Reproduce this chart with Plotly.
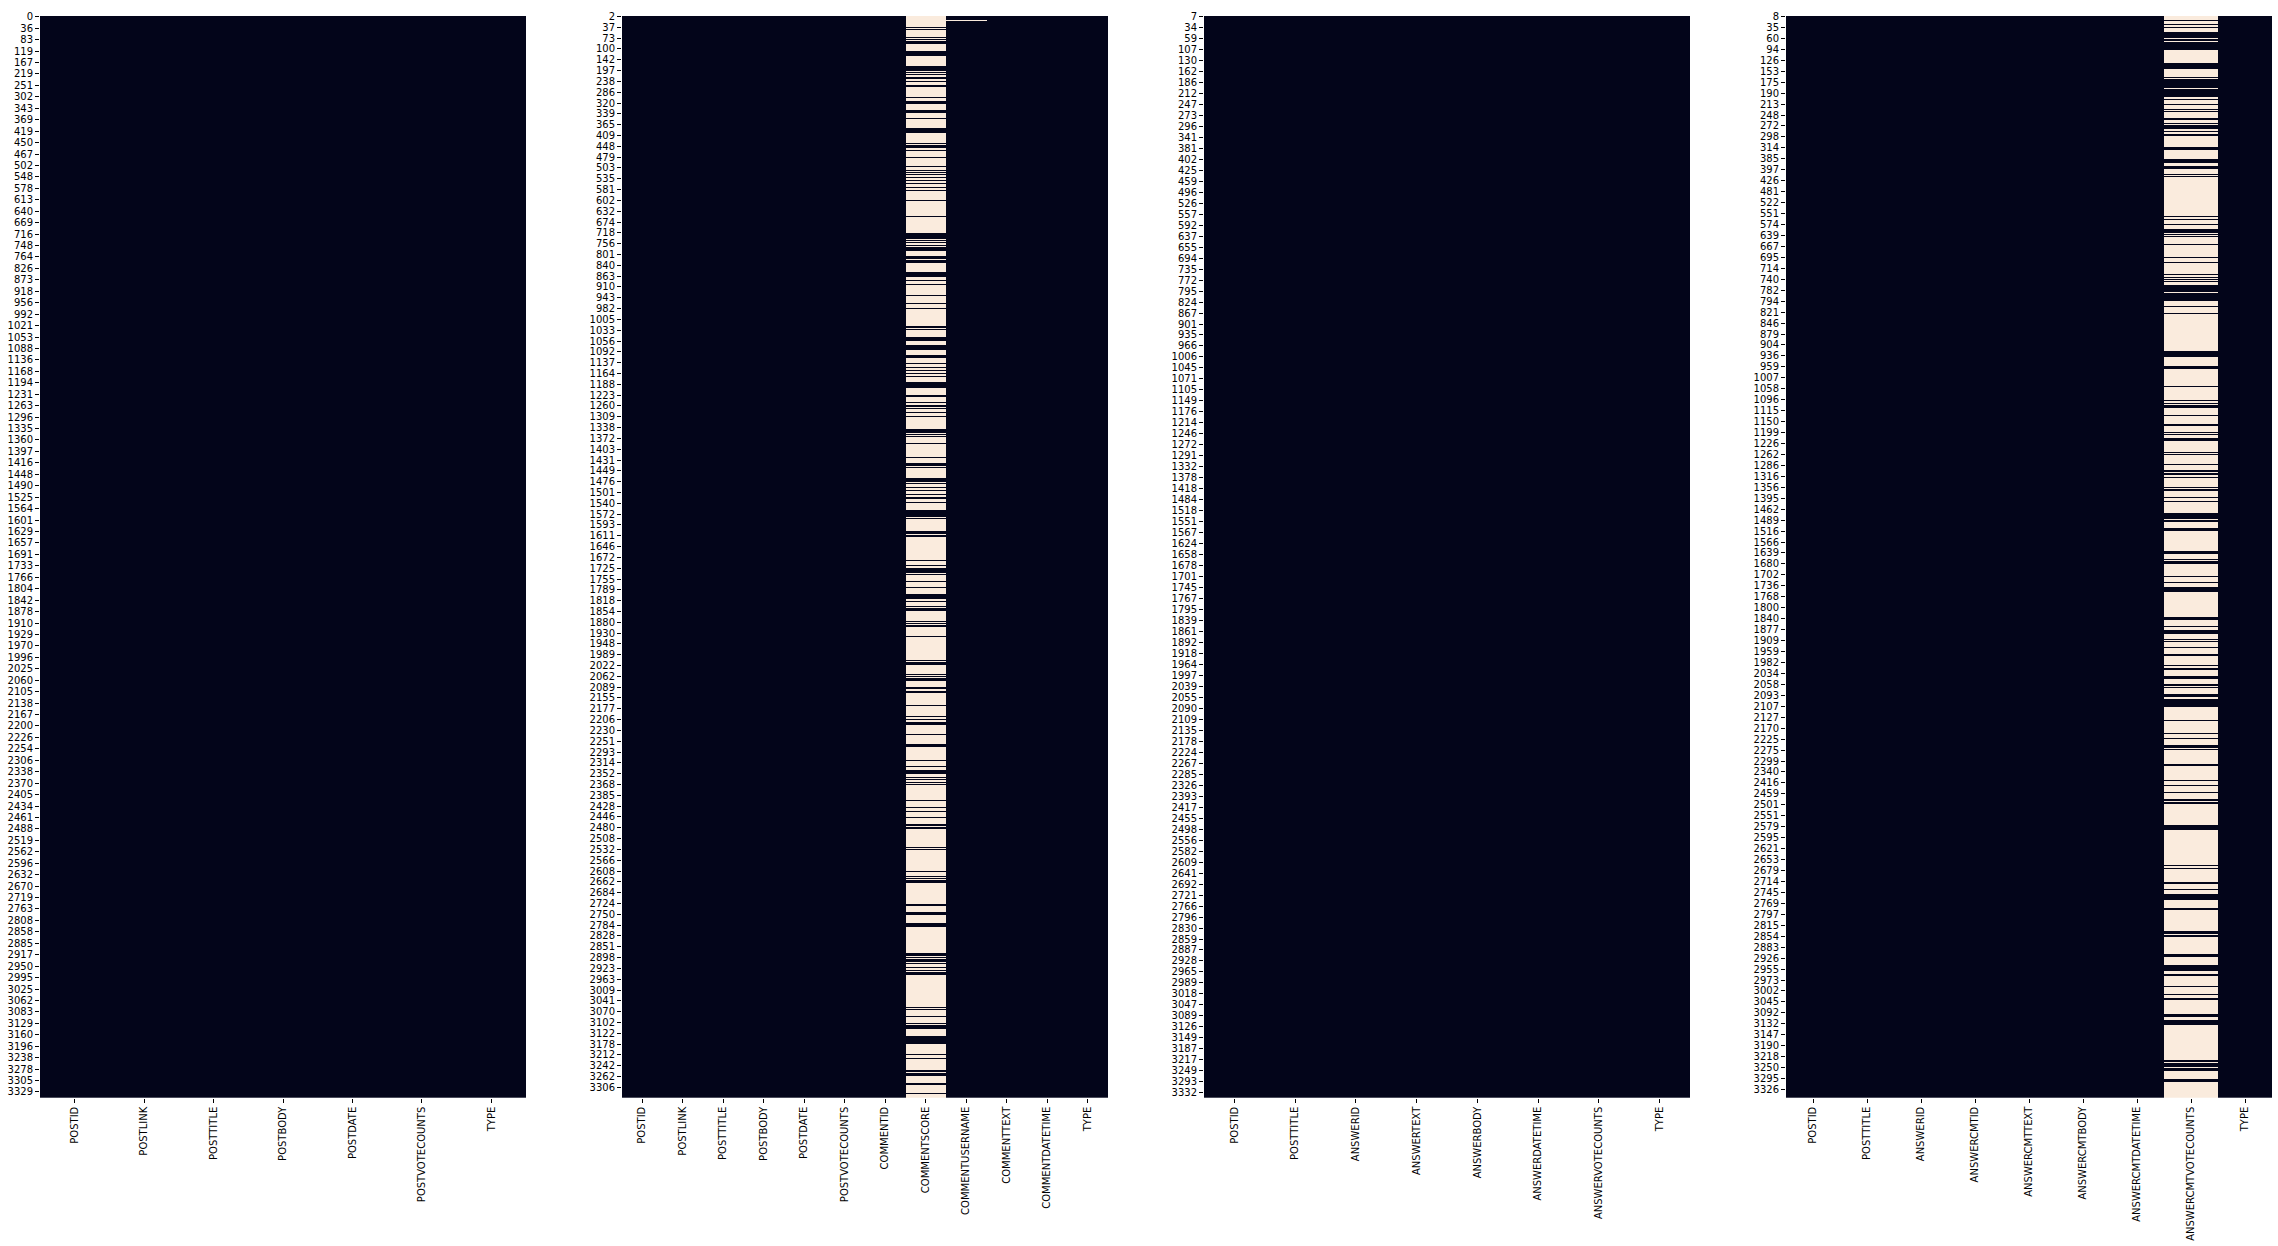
import plotly.graph_objects as go

# ---------------- data ----------------
cols1 = ["POSTID", "POSTLINK", "POSTTITLE", "POSTBODY", "POSTDATE", "POSTVOTECOUNTS", "TYPE"]
labels1 = [0, 36, 83, 119, 167, 219, 251, 302, 343, 369, 419, 450, 467, 502, 548, 578, 613, 640, 669, 716,
           748, 764, 826, 873, 918, 956, 992, 1021, 1053, 1088, 1136, 1168, 1194, 1231, 1263, 1296, 1335, 1360,
           1397, 1416, 1448, 1490, 1525, 1564, 1601, 1629, 1657, 1691, 1733, 1766, 1804, 1842, 1878, 1910, 1929,
           1970, 1996, 2025, 2060, 2105, 2138, 2167, 2200, 2226, 2254, 2306, 2338, 2370, 2405, 2434, 2461, 2488,
           2519, 2562, 2596, 2632, 2670, 2719, 2763, 2808, 2858, 2885, 2917, 2950, 2995, 3025, 3062, 3083, 3129,
           3160, 3196, 3238, 3278, 3305, 3329]
rows1 = 662
step1 = 7

cols2 = ["POSTID", "POSTLINK", "POSTTITLE", "POSTBODY", "POSTDATE", "POSTVOTECOUNTS", "COMMENTID",
         "COMMENTSCORE", "COMMENTUSERNAME", "COMMENTTEXT", "COMMENTDATETIME", "TYPE"]
labels2 = [2, 37, 73, 100, 142, 197, 238, 286, 320, 339, 365, 409, 448, 479, 503, 535, 581, 602, 632, 674,
           718, 756, 801, 840, 863, 910, 943, 982, 1005, 1033, 1056, 1092, 1137, 1164, 1188, 1223, 1260, 1309,
           1338, 1372, 1403, 1431, 1449, 1476, 1501, 1540, 1572, 1593, 1611, 1646, 1672, 1725, 1755, 1789, 1818,
           1854, 1880, 1930, 1948, 1989, 2022, 2062, 2089, 2155, 2177, 2206, 2230, 2251, 2293, 2314, 2352, 2368,
           2385, 2428, 2446, 2480, 2508, 2532, 2566, 2608, 2662, 2684, 2724, 2750, 2784, 2828, 2851, 2898, 2923,
           2963, 3009, 3041, 3070, 3102, 3122, 3178, 3212, 3242, 3262, 3306]
rows2 = 1000
step2 = 10
# rows (inclusive runs) where COMMENTSCORE is present; every other row is missing
score_present2 = [
    [10, 10], [12, 12], [19, 19], [21, 21], [23, 25], [32, 36], [46, 50], [52, 52], [54, 54], [56, 57], [60, 60],
    [64, 65], [75, 75], [79, 80], [87, 89], [94, 94], [104, 107], [117, 117], [119, 121], [124, 124], [130, 130],
    [139, 139], [142, 142], [144, 144], [146, 146], [149, 149], [152, 152], [154, 154], [158, 158], [161, 161],
    [170, 170], [185, 185], [201, 205], [207, 207], [209, 209], [212, 212], [214, 216], [222, 224], [226, 227],
    [237, 240], [244, 244], [248, 248], [258, 258], [265, 265], [270, 270], [287, 287], [289, 289], [297, 299],
    [304, 308], [313, 315], [321, 321], [324, 324], [327, 327], [330, 330], [333, 333], [338, 343], [350, 351],
    [357, 357], [360, 360], [362, 362], [366, 366], [370, 370], [382, 384], [386, 386], [388, 388], [395, 395],
    [408, 408], [413, 415], [417, 417], [427, 430], [432, 432], [435, 435], [438, 438], [442, 442], [445, 445],
    [449, 449], [457, 462], [464, 464], [476, 478], [480, 481], [503, 503], [507, 507], [510, 514], [516, 516],
    [522, 522], [528, 528], [534, 538], [541, 541], [545, 545], [547, 549], [559, 559], [561, 561], [563, 564],
    [573, 573], [595, 595], [597, 599], [608, 608], [610, 610], [612, 614], [620, 621], [624, 625], [637, 637],
    [647, 647], [650, 650], [653, 654], [664, 664], [673, 675], [688, 688], [693, 693], [697, 700], [703, 703],
    [705, 705], [708, 708], [710, 710], [725, 725], [731, 731], [735, 735], [740, 740], [747, 748], [750, 750],
    [768, 768], [770, 770], [790, 790], [795, 795], [797, 797], [799, 800], [821, 822], [828, 830], [838, 841],
    [866, 868], [870, 870], [872, 873], [875, 875], [879, 879], [882, 882], [884, 885], [916, 916], [918, 918],
    [924, 924], [931, 931], [933, 935], [943, 949], [959, 959], [963, 963], [974, 975], [977, 979], [986, 987],
    [995, 995]]
# rows where COMMENTUSERNAME is missing
username_missing2 = [4]

cols3 = ["POSTID", "POSTTITLE", "ANSWERID", "ANSWERTEXT", "ANSWERBODY", "ANSWERDATETIME",
         "ANSWERVOTECOUNTS", "TYPE"]
labels3 = [7, 34, 59, 107, 130, 162, 186, 212, 247, 273, 296, 341, 381, 402, 425, 459, 496, 526, 557, 592,
           637, 655, 694, 735, 772, 795, 824, 867, 901, 935, 966, 1006, 1045, 1071, 1105, 1149, 1176, 1214,
           1246, 1272, 1291, 1332, 1378, 1418, 1484, 1518, 1551, 1567, 1624, 1658, 1678, 1701, 1745, 1767,
           1795, 1839, 1861, 1892, 1918, 1964, 1997, 2039, 2055, 2090, 2109, 2135, 2178, 2224, 2267, 2285,
           2326, 2393, 2417, 2455, 2498, 2556, 2582, 2609, 2641, 2692, 2721, 2766, 2796, 2830, 2859, 2887,
           2928, 2965, 2989, 3018, 3047, 3089, 3126, 3149, 3187, 3217, 3249, 3293, 3332]
rows3 = 985
step3 = 10

cols4 = ["POSTID", "POSTTITLE", "ANSWERID", "ANSWERCMTID", "ANSWERCMTTEXT", "ANSWERCMTBODY",
         "ANSWERCMTDATETIME", "ANSWERCMTVOTECOUNTS", "TYPE"]
labels4 = [8, 35, 60, 94, 126, 153, 175, 190, 213, 248, 272, 298, 314, 385, 397, 426, 481, 522, 551, 574,
           639, 667, 695, 714, 740, 782, 794, 821, 846, 879, 904, 936, 959, 1007, 1058, 1096, 1115, 1150, 1199,
           1226, 1262, 1286, 1316, 1356, 1395, 1462, 1489, 1516, 1566, 1639, 1680, 1702, 1736, 1768, 1800,
           1840, 1877, 1909, 1959, 1982, 2034, 2058, 2093, 2107, 2127, 2170, 2225, 2275, 2299, 2340, 2416,
           2459, 2501, 2551, 2579, 2595, 2621, 2653, 2679, 2714, 2745, 2769, 2797, 2815, 2854, 2883, 2926,
           2955, 2973, 3002, 3045, 3092, 3132, 3147, 3190, 3218, 3250, 3295, 3326]
rows4 = 988
step4 = 10
# rows (inclusive runs) where ANSWERCMTVOTECOUNTS is present; every other row is missing
votes_present4 = [
    [4, 4], [7, 7], [10, 10], [15, 19], [21, 22], [24, 30], [43, 47], [56, 56], [58, 65], [67, 73], [76, 76],
    [80, 80], [85, 85], [87, 87], [93, 94], [98, 98], [100, 102], [105, 105], [108, 109], [120, 121],
    [131, 133], [137, 139], [144, 144], [146, 146], [183, 183], [185, 185], [190, 190], [195, 197], [199, 199],
    [201, 201], [208, 208], [220, 220], [225, 225], [236, 236], [238, 238], [240, 240], [242, 242], [246, 251],
    [253, 259], [265, 265], [271, 271], [306, 310], [320, 321], [338, 338], [351, 351], [353, 353], [355, 357],
    [364, 364], [373, 373], [380, 380], [382, 382], [385, 387], [398, 398], [400, 400], [409, 409], [415, 415],
    [417, 418], [421, 421], [430, 430], [432, 433], [439, 439], [443, 443], [454, 458], [460, 461], [468, 469],
    [489, 490], [496, 496], [498, 499], [511, 511], [517, 517], [521, 525], [549, 551], [557, 557], [561, 563],
    [569, 569], [571, 571], [576, 576], [583, 583], [593, 593], [595, 596], [603, 604], [610, 611], [613, 613],
    [619, 621], [624, 630], [643, 643], [655, 655], [659, 659], [666, 667], [669, 669], [683, 684], [698, 698],
    [702, 702], [709, 709], [715, 716], [718, 719], [739, 742], [775, 775], [778, 778], [791, 792], [797, 797],
    [802, 806], [815, 815], [836, 837], [839, 840], [857, 858], [867, 871], [875, 876], [886, 886], [893, 893],
    [897, 898], [911, 913], [917, 920], [953, 954], [956, 959], [961, 962], [971, 972]]


# ---------------- build isnull matrices ----------------
def empty(nrows, ncols):
    return [[0] * ncols for _ in range(nrows)]


def mostly_missing(z, col, present_runs):
    for r in range(len(z)):
        z[r][col] = 1
    for a, b in present_runs:
        for r in range(a, b + 1):
            if r < len(z):
                z[r][col] = 0


z1 = empty(rows1, len(cols1))
z2 = empty(rows2, len(cols2))
mostly_missing(z2, cols2.index("COMMENTSCORE"), score_present2)
for r in username_missing2:
    z2[r][cols2.index("COMMENTUSERNAME")] = 1
z3 = empty(rows3, len(cols3))
z4 = empty(rows4, len(cols4))
mostly_missing(z4, cols4.index("ANSWERCMTVOTECOUNTS"), votes_present4)

panels = [
    (z1, cols1, labels1, rows1, step1),
    (z2, cols2, labels2, rows2, step2),
    (z3, cols3, labels3, rows3, step3),
    (z4, cols4, labels4, rows4, step4),
]

W, H = 2278, 1246
x_left = [40, 622, 1204, 1786]
pw = 486
y_top, y_bot = 11, 1098

fig = go.Figure()
font = dict(family="DejaVu Sans", size=10, color="#000000")
layout = dict(width=W, height=H, margin=dict(l=0, r=0, t=0, b=0),
              paper_bgcolor="white", plot_bgcolor="white", showlegend=False)

for i, (z, cols, labels, nrows, step) in enumerate(panels):
    n = i + 1
    xa = "x" if n == 1 else f"x{n}"
    ya = "y" if n == 1 else f"y{n}"
    fig.add_trace(go.Heatmap(
        z=z, x=list(range(len(cols))), y=list(range(nrows)),
        colorscale=[[0, "#03051a"], [1, "#faebdd"]], zmin=0, zmax=1,
        showscale=False, xaxis=xa, yaxis=ya, hoverinfo="skip"))
    layout[f"xaxis{'' if n == 1 else n}"] = dict(
        domain=[x_left[i] / W, (x_left[i] + pw) / W], anchor=ya,
        range=[-0.5, len(cols) - 0.5], tickmode="array",
        tickvals=list(range(len(cols))), ticktext=cols, tickangle=-90,
        ticks="outside", ticklen=4, tickwidth=0.8, tickcolor="#000000",
        showgrid=False, zeroline=False, showline=False, tickfont=font)
    layout[f"yaxis{'' if n == 1 else n}"] = dict(
        domain=[1 - y_bot / H, 1 - y_top / H], anchor=xa,
        range=[nrows - 0.5, -0.5], tickmode="array",
        tickvals=[k * step for k in range(len(labels))], ticktext=[str(v) for v in labels],
        ticks="outside", ticklen=4, tickwidth=0.8, tickcolor="#000000",
        showgrid=False, zeroline=False, showline=False, tickfont=font)

fig.update_layout(**layout)
fig.write_html("out.html")
